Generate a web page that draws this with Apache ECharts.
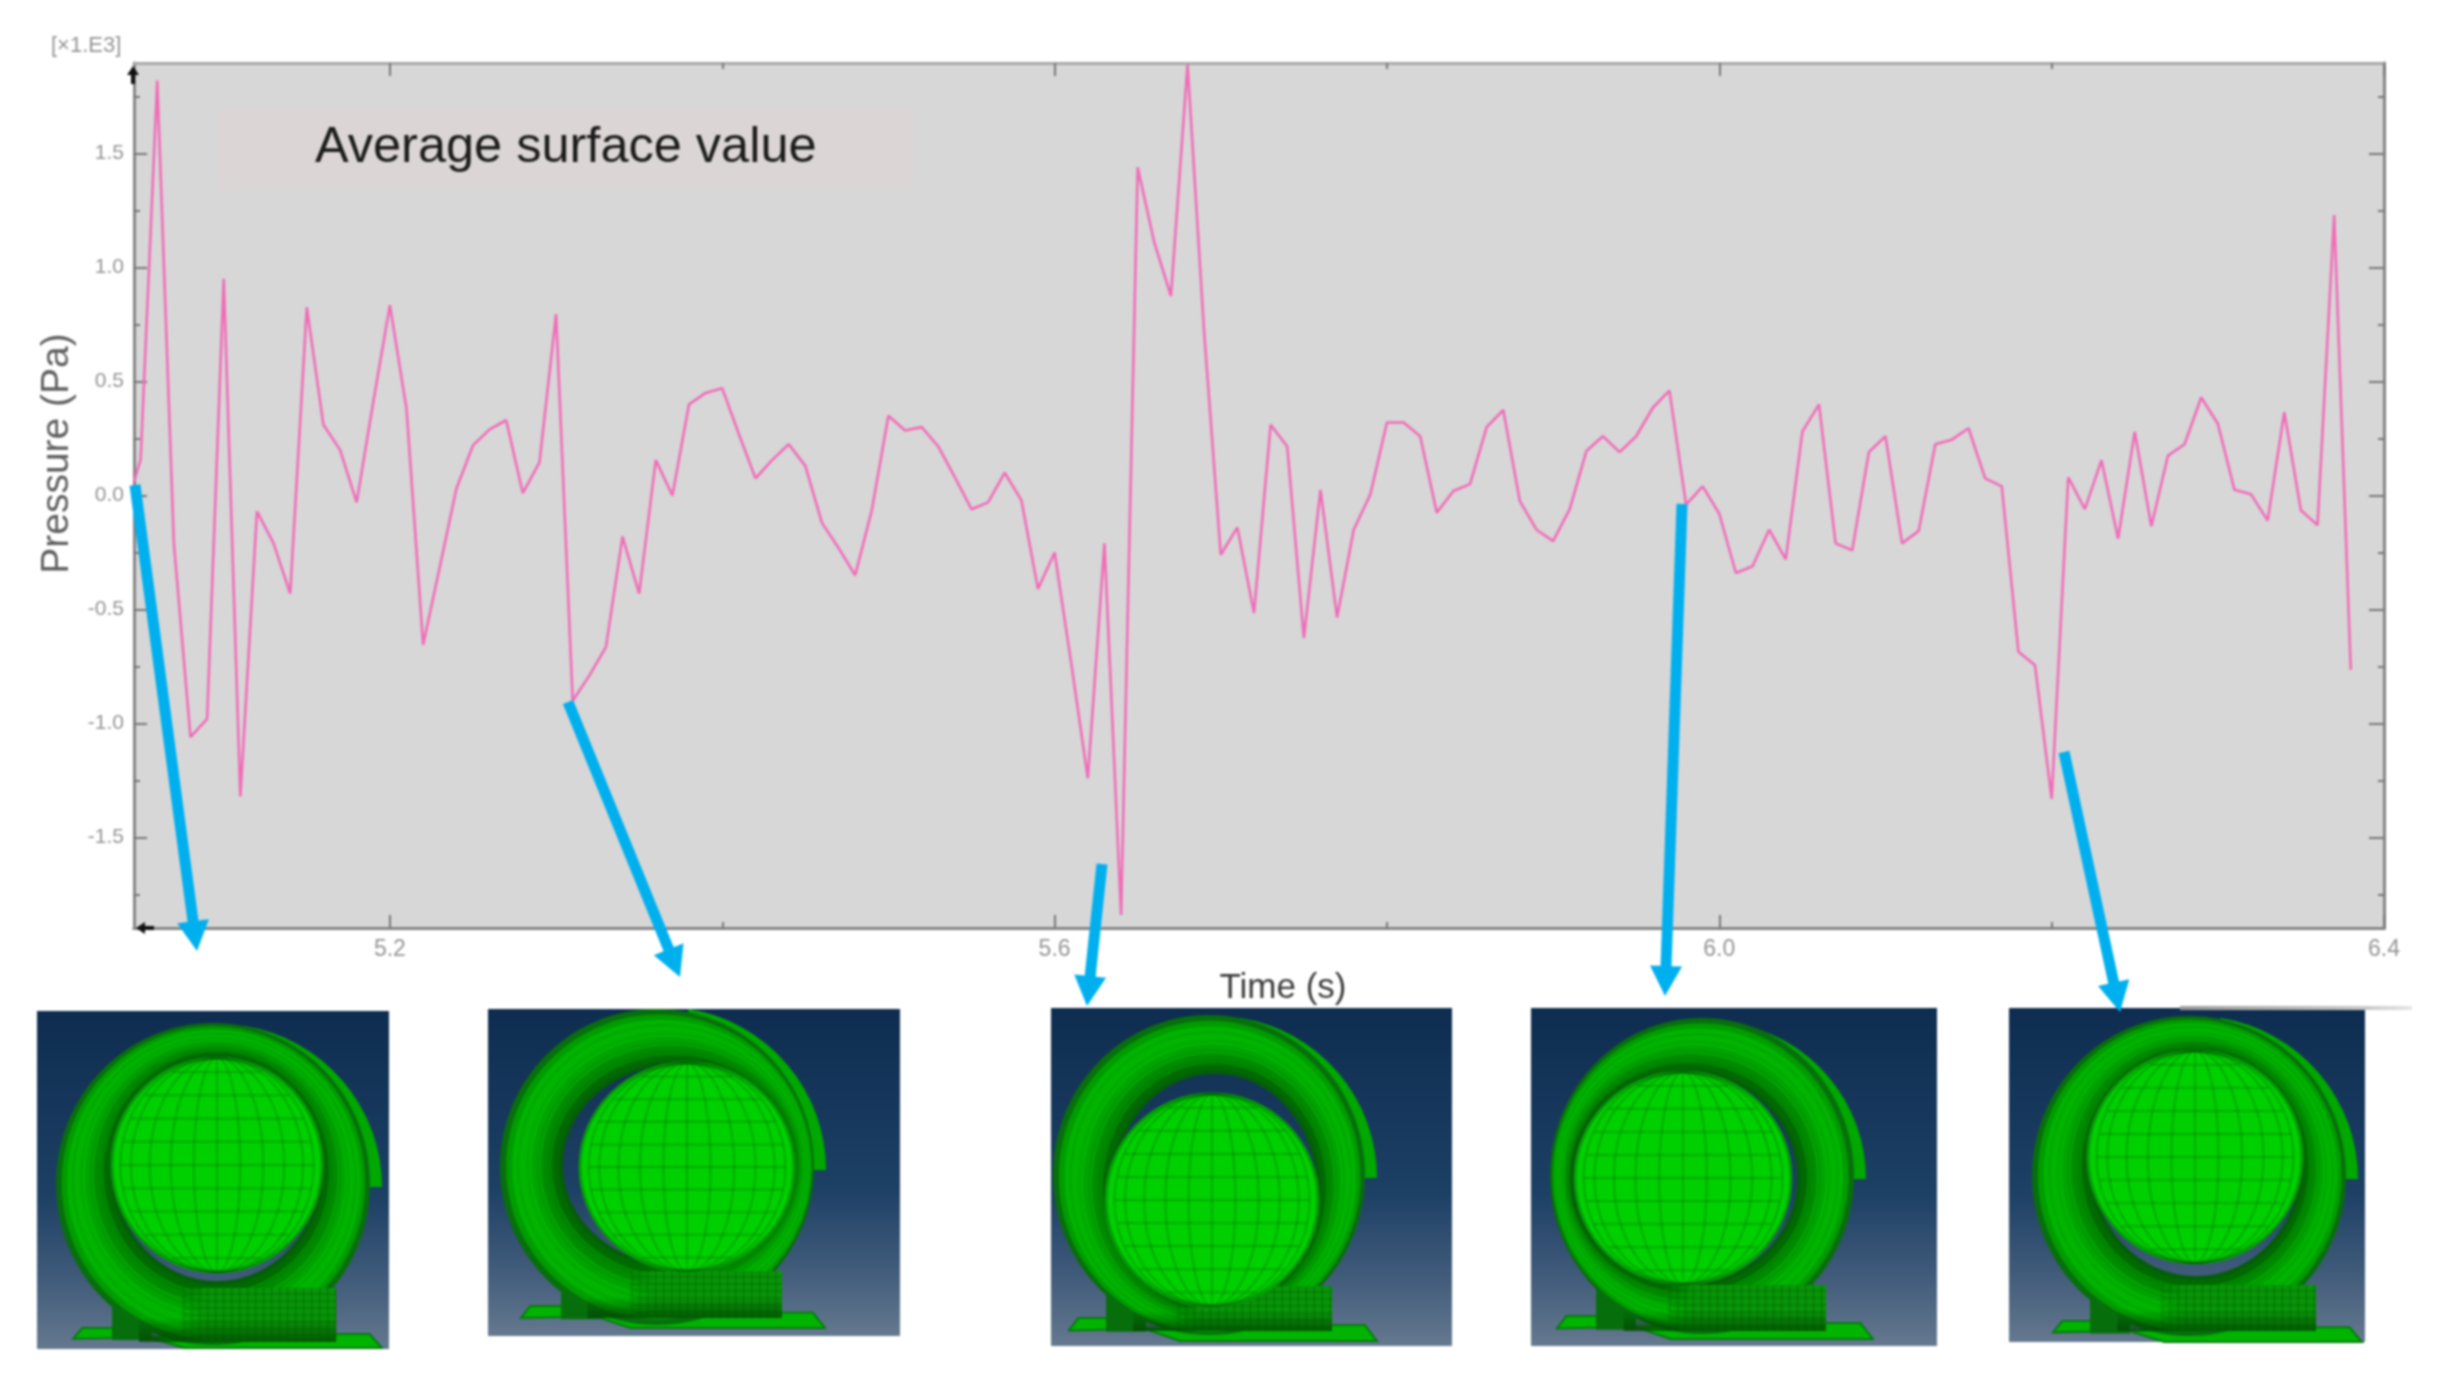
<!DOCTYPE html>
<html><head><meta charset="utf-8">
<style>html,body{margin:0;padding:0;background:#fff}#c{width:2448px;height:1382px;filter:blur(1px)}</style>
<script src="https://cdn.jsdelivr.net/npm/echarts@6/dist/echarts.min.js"></script>
</head><body><div id="c"></div>
<script>
const times = [5.046,5.05,5.06,5.07,5.08,5.09,5.10,5.11,5.12,5.13,5.14,5.15,5.16,5.17,5.18,5.19,5.20,5.21,5.22,5.23,5.24,5.25,5.26,5.27,5.28,5.29,5.30,5.31,5.32,5.33,5.34,5.35,5.36,5.37,5.38,5.39,5.40,5.41,5.42,5.43,5.44,5.45,5.46,5.47,5.48,5.49,5.50,5.51,5.52,5.53,5.54,5.55,5.56,5.57,5.58,5.59,5.60,5.61,5.62,5.63,5.64,5.65,5.66,5.67,5.68,5.69,5.70,5.71,5.72,5.73,5.74,5.75,5.76,5.77,5.78,5.79,5.80,5.81,5.82,5.83,5.84,5.85,5.86,5.87,5.88,5.89,5.90,5.91,5.92,5.93,5.94,5.95,5.96,5.97,5.98,5.99,6.00,6.01,6.02,6.03,6.04,6.05,6.06,6.07,6.08,6.09,6.10,6.11,6.12,6.13,6.14,6.15,6.16,6.17,6.18,6.19,6.20,6.21,6.22,6.23,6.24,6.25,6.26,6.27,6.28,6.29,6.30,6.31,6.32,6.33,6.34,6.35,6.36,6.37,6.38];
const pressure = [0.06,0.16,1.82,-0.21,-1.06,-0.98,0.95,-1.32,-0.07,-0.21,-0.43,0.825,0.31,0.20,-0.03,0.41,0.835,0.38,-0.655,-0.315,0.03,0.22,0.29,0.33,0.01,0.145,0.795,-0.90,-0.79,-0.665,-0.18,-0.43,0.155,0.0,0.40,0.45,0.47,0.27,0.075,0.155,0.225,0.13,-0.12,-0.23,-0.35,-0.065,0.35,0.285,0.30,0.215,0.08,-0.06,-0.03,0.10,-0.02,-0.41,-0.25,-0.735,-1.24,-0.21,-1.84,1.44,1.11,0.875,1.89,0.715,-0.26,-0.14,-0.515,0.31,0.215,-0.625,0.025,-0.535,-0.15,0.005,0.32,0.32,0.26,-0.075,0.02,0.05,0.30,0.375,-0.025,-0.15,-0.20,-0.06,0.195,0.26,0.19,0.26,0.385,0.46,-0.04,0.04,-0.08,-0.34,-0.31,-0.15,-0.28,0.28,0.40,-0.21,-0.24,0.19,0.26,-0.21,-0.155,0.225,0.245,0.295,0.075,0.04,-0.685,-0.745,-1.33,0.08,-0.06,0.155,-0.19,0.28,-0.135,0.175,0.225,0.43,0.315,0.025,0.005,-0.11,0.365,-0.065,-0.13,1.23,-0.765];
const xMajor = [5.2,5.6,6.0,6.4];
const xMinor = [5.4,5.8,6.2];
const yMajor = [-1.5,-1.0,-0.5,0.0,0.5,1.0,1.5];
const yMinor = [-1.75,-1.25,-0.75,-0.25,0.25,0.75,1.25,1.75];
const xRange = [5.046,6.4], yRange = [-1.897,1.897];
const titleNote = 'Average surface value', exponent = '[×1.E3]';

const chart = echarts.init(document.getElementById('c'),null,{renderer:'canvas'});
const BLUE='#00b0ee', grey='#858585';
function xA(pos,vals,len,labels,extra){return Object.assign({type:'value',min:xRange[0],max:xRange[1],position:pos,
  axisLine:{show:true,onZero:false,lineStyle:{color:pos==='top'?'#a8a8a8':grey,width:3}},splitLine:{show:false},
  axisTick:{show:true,inside:true,length:len,customValues:vals,lineStyle:{color:'#777',width:2}},
  axisLabel:labels?{show:true,customValues:vals,formatter:v=>v.toFixed(1),color:'#949494',fontSize:23,fontFamily:'Liberation Sans',margin:10,showMinLabel:true,showMaxLabel:true}:{show:false}},extra||{});}
function yA(pos,vals,len,labels,extra){return Object.assign({type:'value',min:yRange[0],max:yRange[1],position:pos,
  axisLine:{show:true,onZero:false,lineStyle:{color:grey,width:3}},splitLine:{show:false},
  axisTick:{show:true,inside:true,length:len,customValues:vals,lineStyle:{color:'#777',width:2}},
  axisLabel:labels?{show:true,customValues:vals,formatter:v=>v.toFixed(1),color:'#949494',fontSize:21,fontFamily:'Liberation Sans',margin:10}:{show:false}},extra||{});}

const panels=[
 {box:[37,1011,389,1349],ring:[213,1184,157,161],hole:[217,1170,105,113],wheel:[217,1165,105,107],block:[112,1288,336,1342],feet:[73,1328,382,1348]},
 {box:[488,1009,900,1336],ring:[657,1167,157,158],hole:[677,1165,116,102],wheel:[687,1167,107,104],block:[561,1271,782,1318],feet:[521,1306,825,1328]},
 {box:[1051,1008,1452,1346],ring:[1209,1175,156,160],hole:[1215,1190,104,118],wheel:[1212,1200,106,106],block:[1106,1286,1332,1331],feet:[1069,1318,1377,1341]},
 {box:[1531,1008,1937,1346],ring:[1702,1176,152,158],hole:[1686,1178,113,107],wheel:[1683,1178,108,106],block:[1596,1285,1826,1331],feet:[1557,1316,1873,1339]},
 {box:[2009,1008,2365,1342],ring:[2189,1176,157,160],hole:[2196,1165,106,113],wheel:[2195,1157,107,106],block:[2090,1285,2316,1331],feet:[2053,1321,2362,1342]}
];
const arrows=[[135,485,197,951],[568,702,680,977],[1102,864,1087,1006],[1682,504,1665,996],[2064,752,2120,1012]];
const footShape=[[0,.54],[.03,0],[.14,0],[.26,.54],[.36,1],[1,1],[.96,.3],[.84,.3]];

const g=[];
const Z=20;
function bgGrad(b){return {type:'linear',x:0,y:b[1],x2:0,y2:b[3],global:true,colorStops:[{offset:0,color:'#0e2d50'},{offset:.55,color:'#1d4065'},{offset:.8,color:'#425c7b'},{offset:1,color:'#65798f'}]};}
function ell(c,st){g.push({type:'ellipse',silent:true,z:Z,shape:{cx:c[0],cy:c[1],rx:c[2],ry:c[3]},style:st});}
function ln(x1,y1,x2,y2,stroke,w){g.push({type:'line',silent:true,z:Z,shape:{x1,y1,x2,y2},style:{stroke,lineWidth:w}});}
function mix(a,b,t){return a.map((v,i)=>v+(b[i]-v)*t);}
panels.forEach(p=>{
  const b=p.box;
  g.push({type:'rect',silent:true,z:Z,shape:{x:b[0],y:b[1],width:b[2]-b[0],height:b[3]-b[1]},style:{fill:bgGrad(b)}});
  const f=p.feet,w=f[2]-f[0],h=f[3]-f[1],k=p.block,bw=k[2]-k[0],bh=k[3]-k[1],R=p.ring;
  g.push({type:'polygon',silent:true,z:Z,shape:{points:footShape.map(q=>[f[0]+q[0]*w,f[1]+q[1]*h])},style:{fill:'#00b400',stroke:'#067a10',lineWidth:2}});
  g.push({type:'rect',silent:true,z:Z,shape:{x:k[0],y:k[1],width:40,height:f[1]+h*.6-k[1]},style:{fill:'#066f0c'}});
  g.push({type:'arc',silent:true,z:Z,shape:{cx:R[0]+6,cy:R[1]+3,r:R[2]-1,startAngle:-Math.PI*0.45,endAngle:0},style:{fill:'none',stroke:'#00a800',lineWidth:14,lineCap:'butt'}});
  const bands=[[0,'#076f0c'],[.1,'#009c00'],[.2,'#00b400'],[.52,'#00a400'],[.68,'#008a00'],[.85,'#006a00']];
  bands.forEach(s=>ell(mix(R,p.hole,s[0]),{fill:s[1]}));
  [.3,.45,.62,.8].forEach(t=>ell(mix(R,p.hole,t),{fill:'none',stroke:'rgba(0,80,0,.18)',lineWidth:1.5}));
  ell(p.hole,{fill:bgGrad(b),stroke:'#055c0a',lineWidth:4});
  g.push({type:'rect',silent:true,z:Z,shape:{x:k[0],y:k[1],width:bw,height:bh},style:{fill:{type:'linear',x:0,y:0,x2:1,y2:0,colorStops:[{offset:0,color:'rgba(0,150,0,0)'},{offset:.3,color:'rgba(0,150,0,0)'},{offset:.42,color:'rgba(8,150,8,.95)'},{offset:1,color:'rgba(8,150,8,1)'}]}}});
  for(let x=k[0]+bw*.32;x<k[2];x+=8)ln(x,k[1],x,k[3],'rgba(0,70,0,.28)',1.5);
  for(let y=k[1]+6;y<k[3];y+=7)ln(k[0]+bw*.32,y,k[2],y,'rgba(0,70,0,.28)',1.5);
  g.push({type:'rect',silent:true,z:Z,shape:{x:k[0]+bw*.12,y:k[3]-bh*.45,width:bw*.88,height:bh*.45},style:{fill:{type:'linear',x:0,y:0,x2:0,y2:1,colorStops:[{offset:0,color:'rgba(0,70,0,0)'},{offset:1,color:'rgba(0,70,0,.75)'}]}}});
  const W=p.wheel,mesh='rgba(0,90,0,.3)';
  ell(W,{fill:'#00d000',stroke:'#059c08',lineWidth:3});
  [.22,.44,.64,.82,.92].forEach(m=>ell([W[0],W[1],W[2]*m,W[3]],{fill:'none',stroke:mesh,lineWidth:2}));
  ln(W[0],W[1]-W[3],W[0],W[1]+W[3],mesh,2);
  for(let d=-4;d<=4;d++){const dy=d*W[3]/4.6,dx=W[2]*.92*Math.sqrt(Math.max(0,1-Math.pow(dy/(W[3]*.98),2)));ln(W[0]-dx,W[1]+dy,W[0]+dx,W[1]+dy,mesh,2);}
});
g.push({type:'rect',silent:true,z:Z,shape:{x:2180,y:1006,width:232,height:4},style:{fill:{type:'linear',x:0,y:0,x2:1,y2:0,colorStops:[{offset:0,color:'#9a9a9a'},{offset:.8,color:'#c8c8c8'},{offset:1,color:'#e6e6e6'}]}}});
arrows.forEach(a=>{
  const dx=a[2]-a[0],dy=a[3]-a[1],L=Math.hypot(dx,dy),ux=dx/L,uy=dy/L,nx=-uy,ny=ux,hl=30,hw=16,sw=5.5;
  const bx=a[2]-ux*hl,by=a[3]-uy*hl;
  g.push({type:'polygon',silent:true,z:Z+5,shape:{points:[[a[0]+nx*sw,a[1]+ny*sw],[bx+nx*sw,by+ny*sw],[bx+nx*hw,by+ny*hw],[a[2],a[3]],[bx-nx*hw,by-ny*hw],[bx-nx*sw,by-ny*sw],[a[0]-nx*sw,a[1]-ny*sw]]},style:{fill:BLUE}});
});
g.push({type:'rect',silent:true,z:1,shape:{x:219,y:109,width:694,height:81},style:{fill:'#dbd5d5'}});
g.push({type:'text',silent:true,z:Z,style:{text:titleNote,x:315,y:148,fill:'#1c1c1c',font:'50.5px "Liberation Sans"',textAlign:'left',textVerticalAlign:'middle'}});
g.push({type:'text',silent:true,z:Z,style:{text:exponent,x:51,y:46,fill:'#949494',font:'22px "Liberation Sans"',textAlign:'left',textVerticalAlign:'middle'}});
g.push({type:'polygon',silent:true,z:Z,shape:{points:[[133,66],[139,75],[135,75],[135,84],[131,84],[131,75],[127,75]]},style:{fill:'#111'}});
g.push({type:'polygon',silent:true,z:Z,shape:{points:[[136,928],[145,922],[145,926],[154,926],[154,930],[145,930],[145,934]]},style:{fill:'#111'}});

chart.setOption({
  animation:false,backgroundColor:'#fff',
  grid:{left:134,top:63,width:2250,height:865,show:true,backgroundColor:'#d7d7d7',borderWidth:0},
  xAxis:[
    xA('bottom',xMajor,13,true,{name:'Time (s)',nameLocation:'middle',nameGap:43,nameTextStyle:{color:'#3c3c3c',fontSize:35,fontFamily:'Liberation Sans',padding:[0,0,0,48]}}),
    xA('bottom',xMinor,6,false),xA('top',xMajor,13,false),xA('top',xMinor,6,false)
  ],
  yAxis:[
    yA('left',yMajor,13,true,{name:'Pressure (Pa)',nameLocation:'middle',nameGap:50,nameRotate:90,nameTextStyle:{color:'#5e5e5e',fontSize:39,fontFamily:'Liberation Sans',padding:[0,0,0,84]}}),
    yA('left',yMinor,6,false),yA('right',yMajor,15,false),yA('right',yMinor,6,false)
  ],
  series:[{type:'line',xAxisIndex:0,yAxisIndex:0,data:times.map((t,i)=>[t,pressure[i]]),showSymbol:false,smooth:false,clip:true,z:5,
    lineStyle:{color:'#f06cb8',width:2.6}}],
  graphic:{elements:g}
});
</script></body></html>
